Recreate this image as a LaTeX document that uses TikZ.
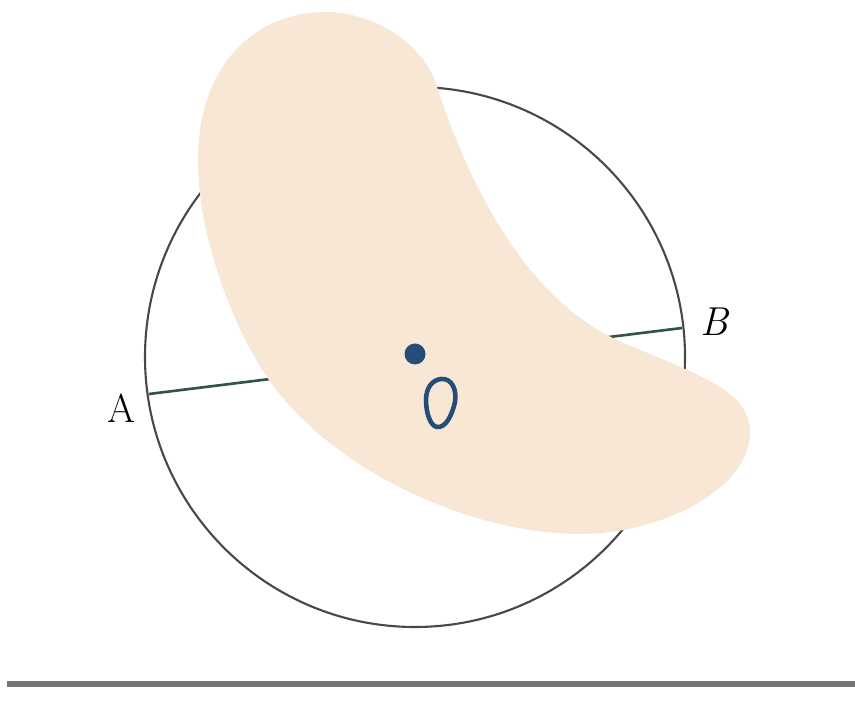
\documentclass[tikz,border=0pt]{standalone}
\usepackage{xcolor}
\usepackage{tikz}
\usetikzlibrary{calc}
\definecolor{sandfill}{RGB}{247,231,212}
\definecolor{rimgray}{RGB}{72,72,72}
\definecolor{chordgreen}{RGB}{48,86,66}
\definecolor{inkblue}{RGB}{36,78,120}
\definecolor{rulegray}{RGB}{118,118,118}

\begin{document}
\begin{tikzpicture}[
    x=0.02cm, y=-0.02cm,
    rim/.style={draw=rimgray, line width=1.2pt},
    chord/.style={draw=chordgreen, line width=1.5pt},
    blob/.style={fill=sandfill, draw=none},
    ink/.style={draw=inkblue, line width=2.6pt},
    letter/.style={font=\fontsize{23}{27}\selectfont, inner sep=0pt}
]
\useasboundingbox (0,0) rectangle (855,715);

% circle and chord
\coordinate (centre) at (415,357);
\draw[rim] (centre) circle[radius=270*0.02cm];
\coordinate (a) at (149,394);
\coordinate (b) at (682,328);
\draw[chord] (a) -- (b);

% the kidney-shaped region
\path[blob] (325,12)
    .. controls (375,12) and (425,45) .. (437,87)
    .. controls (458,150) and (510,290) .. (617,340)
    .. controls (700,376) and (750,390) .. (750,432)
    .. controls (750,490) and (660,534) .. (580,534)
    .. controls (470,534) and (330,470) .. (267,377)
    .. controls (235,330) and (198,240) .. (198,160)
    .. controls (198,60) and (260,12) .. cycle;

% point and small loop
\node[circle, fill=inkblue, inner sep=0pt, minimum size=21*0.02cm] (dot) at (415,354) {};
\draw[ink] (441,379) .. controls (452,378) and (457,390) .. (455,402)
    .. controls (452,415) and (446,428) .. (437,427)
    .. controls (430,426) and (426,412) .. (426,400)
    .. controls (426,388) and (432,380) .. cycle;

% labels
\node[letter] (labA) at (122,408) {A};
\node[letter] (labB) at (714,322) {\itshape B};

% rule at the bottom
\draw[draw=rulegray, line width=3.4pt] (7,684) -- (855,684);
\end{tikzpicture}
\end{document}
